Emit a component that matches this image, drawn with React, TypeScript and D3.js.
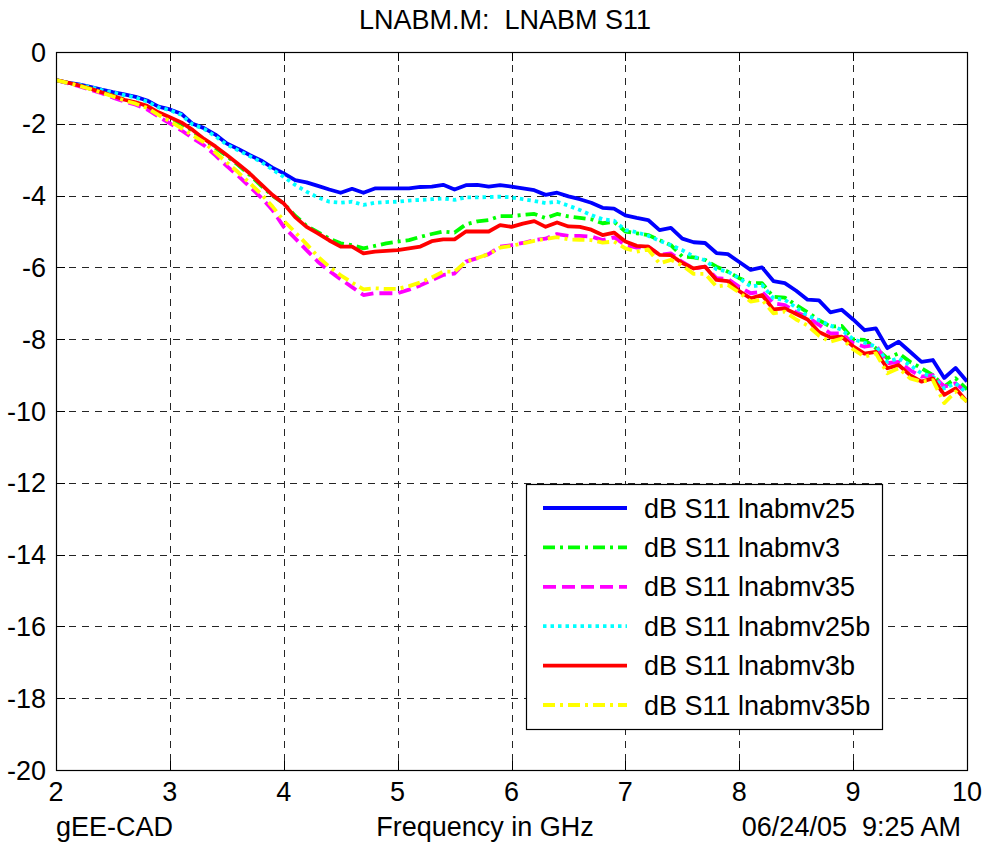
import * as d3 from "d3";
import { useEffect, useRef } from "react";

// frequency points, GHz
const freq = d3.range(81).map((i) => Math.round((2 + i * 0.1) * 10) / 10);

const v25 = [
  -0.78, -0.85, -0.9, -0.97, -1.05, -1.12, -1.18, -1.25, -1.35, -1.52,
  -1.6, -1.72, -2.0, -2.12, -2.3, -2.55, -2.7, -2.87, -3.02, -3.22,
  -3.38, -3.57, -3.63, -3.73, -3.83, -3.92, -3.81, -3.92, -3.8, -3.8,
  -3.8, -3.8, -3.76, -3.75, -3.7, -3.83, -3.71, -3.7, -3.75, -3.71,
  -3.75, -3.8, -3.85, -3.98, -3.92, -4.02, -4.1, -4.2, -4.34, -4.36,
  -4.55, -4.62, -4.68, -4.96, -4.9, -5.2, -5.3, -5.32, -5.6, -5.63,
  -5.85, -6.07, -6.0, -6.38, -6.44, -6.65, -6.9, -6.92, -7.25, -7.18,
  -7.45, -7.75, -7.7, -8.25, -8.07, -8.35, -8.63, -8.58, -9.08, -8.8,
  -9.18,
];
const v3 = [
  -0.78, -0.86, -0.93, -1.02, -1.12, -1.22, -1.33, -1.42, -1.52, -1.72,
  -1.85, -2.0, -2.2, -2.45, -2.67, -2.9, -3.15, -3.42, -3.72, -4.0,
  -4.22, -4.56, -4.84, -5.02, -5.2, -5.33, -5.38, -5.47, -5.4, -5.33,
  -5.28, -5.24, -5.15, -5.07, -5.0, -5.03, -4.8, -4.72, -4.68, -4.57,
  -4.57, -4.54, -4.51, -4.63, -4.51, -4.58, -4.62, -4.66, -4.77, -4.73,
  -5.0, -5.05, -5.1, -5.24, -5.38, -5.7, -5.72, -5.79, -5.98, -6.12,
  -6.3, -6.44, -6.44, -6.82, -6.84, -7.05, -7.25, -7.47, -7.65, -7.63,
  -8.0, -8.02, -8.25, -8.53, -8.39, -8.63, -8.81, -9.0, -9.32, -9.09,
  -9.4,
];
const v35 = [
  -0.78, -0.87, -0.95, -1.05, -1.15, -1.27, -1.38, -1.47, -1.6, -1.8,
  -1.99, -2.18, -2.4, -2.6, -2.88, -3.18, -3.45, -3.75, -4.05, -4.4,
  -4.87, -5.19, -5.52, -5.84, -6.1, -6.33, -6.55, -6.77, -6.72, -6.72,
  -6.72, -6.62, -6.5, -6.36, -6.21, -6.17, -5.84, -5.74, -5.63, -5.42,
  -5.38, -5.32, -5.24, -5.2, -5.07, -5.12, -5.12, -5.14, -5.24, -5.16,
  -5.38, -5.45, -5.42, -5.65, -5.61, -5.85, -6.03, -5.98, -6.3, -6.32,
  -6.54, -6.72, -6.68, -7.0, -7.05, -7.25, -7.38, -7.6, -7.84, -7.84,
  -8.11, -8.21, -8.16, -8.67, -8.63, -8.86, -9.04, -9.0, -9.32, -9.23,
  -9.5,
];
const v25b = [
  -0.78, -0.86, -0.91, -0.98, -1.06, -1.13, -1.2, -1.27, -1.38, -1.54,
  -1.62, -1.75, -2.02, -2.14, -2.35, -2.58, -2.74, -2.9, -3.06, -3.27,
  -3.48, -3.7, -3.89, -4.05, -4.17, -4.2, -4.17, -4.26, -4.2, -4.18,
  -4.17, -4.14, -4.12, -4.1, -4.08, -4.12, -4.05, -4.05, -4.04, -4.03,
  -4.05, -4.1, -4.15, -4.21, -4.17, -4.28, -4.4, -4.54, -4.66, -4.7,
  -4.96, -5.02, -5.12, -5.26, -5.38, -5.52, -5.7, -5.8, -6.05, -6.12,
  -6.3, -6.53, -6.49, -6.86, -6.9, -7.12, -7.35, -7.47, -7.62, -7.74,
  -8.0, -8.1, -8.2, -8.63, -8.53, -8.72, -8.95, -9.04, -9.37, -9.23,
  -9.5,
];
const v3b = [
  -0.78, -0.85, -0.93, -1.02, -1.12, -1.22, -1.33, -1.4, -1.5, -1.68,
  -1.82, -1.96, -2.17, -2.42, -2.63, -2.87, -3.12, -3.38, -3.68, -3.98,
  -4.22, -4.6, -4.87, -5.05, -5.25, -5.42, -5.42, -5.61, -5.56, -5.54,
  -5.52, -5.47, -5.42, -5.27, -5.22, -5.22, -5.0, -5.0, -5.0, -4.82,
  -4.87, -4.78, -4.71, -4.87, -4.75, -4.86, -4.87, -4.95, -5.1, -5.03,
  -5.28, -5.4, -5.42, -5.65, -5.66, -5.88, -6.03, -5.98, -6.35, -6.38,
  -6.66, -6.86, -6.77, -7.17, -7.14, -7.3, -7.45, -7.8, -7.95, -7.93,
  -8.2, -8.4, -8.35, -8.81, -8.72, -9.0, -9.18, -9.09, -9.55, -9.37,
  -9.74,
];
const v35b = [
  -0.78, -0.86, -0.94, -1.03, -1.13, -1.24, -1.35, -1.44, -1.56, -1.75,
  -1.93, -2.12, -2.32, -2.52, -2.8, -3.08, -3.35, -3.65, -3.95, -4.3,
  -4.7, -5.02, -5.35, -5.7, -5.98, -6.22, -6.42, -6.61, -6.58, -6.6,
  -6.6, -6.52, -6.42, -6.28, -6.12, -6.12, -5.84, -5.74, -5.63, -5.45,
  -5.4, -5.33, -5.26, -5.21, -5.16, -5.22, -5.23, -5.24, -5.31, -5.28,
  -5.47, -5.56, -5.5, -5.89, -5.79, -5.95, -6.18, -6.18, -6.53, -6.49,
  -6.7, -6.95, -6.9, -7.28, -7.23, -7.45, -7.62, -7.9, -8.07, -7.98,
  -8.28, -8.49, -8.39, -8.95, -8.81, -9.09, -9.18, -9.14, -9.78, -9.46,
  -9.74,
];

const seriesNames = [
  "dB S11 lnabmv25",
  "dB S11 lnabmv3",
  "dB S11 lnabmv35",
  "dB S11 lnabmv25b",
  "dB S11 lnabmv3b",
  "dB S11 lnabmv35b",
];
const seriesValues = [v25, v3, v35, v25b, v3b, v35b];
const seriesColors = ["#0000ff", "#00ff00", "#ff00ff", "#00ffff", "#ff0000", "#ffff00"];
const seriesDash = ["", "12,5,3,5", "13,6", "3.5,4", "", "12,5,3,5"];

const xTicks = [2, 3, 4, 5, 6, 7, 8, 9, 10];
const yTicks = [0, -2, -4, -6, -8, -10, -12, -14, -16, -18, -20];

const FONT = "Arial, 'Liberation Sans', Helvetica, sans-serif";
const FS = 27;

const App = () => {
  const svgRef = useRef<SVGSVGElement>(null);

  useEffect(() => {
    const w = 986;
    const h = 846;
    const left = 56, right = 967, top = 52, bottom = 770;

    const svg = d3.select(svgRef.current).attr("width", w).attr("height", h);
    svg.selectAll("*").remove();

    svg.append("rect").attr("width", w).attr("height", h).attr("fill", "#fff");

    const x = d3.scaleLinear().domain([2, 10]).range([left, right]);
    const y = d3.scaleLinear().domain([-20, 0]).range([bottom, top]);

    // grid
    const grid = svg.append("g").attr("stroke", "#000").attr("stroke-width", 1)
      .attr("stroke-dasharray", "7,6").attr("opacity", 0.85);
    grid.selectAll(".gx").data(xTicks.slice(1, -1)).join("line")
      .attr("x1", (d) => Math.round(x(d)) + 0.5).attr("x2", (d) => Math.round(x(d)) + 0.5)
      .attr("y1", top).attr("y2", bottom);
    grid.selectAll(".gy").data(yTicks.slice(1, -1)).join("line")
      .attr("y1", (d) => Math.round(y(d)) + 0.5).attr("y2", (d) => Math.round(y(d)) + 0.5)
      .attr("x1", left).attr("x2", right);

    // tick marks on all sides
    const tk = svg.append("g").attr("stroke", "#000").attr("stroke-width", 1);
    const tl = 9;
    xTicks.forEach((d) => {
      const xx = Math.round(x(d)) + 0.5;
      tk.append("line").attr("x1", xx).attr("x2", xx).attr("y1", bottom).attr("y2", bottom - tl);
      tk.append("line").attr("x1", xx).attr("x2", xx).attr("y1", top).attr("y2", top + tl);
    });
    yTicks.forEach((d) => {
      const yy = Math.round(y(d)) + 0.5;
      tk.append("line").attr("x1", left).attr("x2", left + tl).attr("y1", yy).attr("y2", yy);
      tk.append("line").attr("x1", right).attr("x2", right - tl).attr("y1", yy).attr("y2", yy);
    });

    // series
    const line = d3.line<number>()
      .x((_, i) => x(freq[i]))
      .y((d) => y(d));
    const clip = svg.append("clipPath").attr("id", "plotclip");
    clip.append("rect").attr("x", left).attr("y", top).attr("width", right - left).attr("height", bottom - top);
    const lines = svg.append("g").attr("clip-path", "url(#plotclip)");
    seriesValues.forEach((vals, k) => {
      lines.append("path")
        .attr("d", line(vals))
        .attr("fill", "none")
        .attr("stroke", seriesColors[k])
        .attr("stroke-width", 3.8)
        .attr("stroke-linejoin", "round")
        .attr("stroke-dasharray", seriesDash[k] || null);
    });

    // box
    svg.append("rect").attr("x", left + 0.5).attr("y", top + 0.5)
      .attr("width", right - left).attr("height", bottom - top)
      .attr("fill", "none").attr("stroke", "#000").attr("stroke-width", 1.2);

    // tick labels
    const txt = svg.append("g").attr("font-family", FONT).attr("font-size", FS).attr("fill", "#000");
    txt.selectAll(".yl").data(yTicks).join("text")
      .attr("x", left - 10).attr("y", (d) => y(d) + 9.5)
      .attr("text-anchor", "end").text((d) => String(d));
    txt.selectAll(".xl").data(xTicks).join("text")
      .attr("x", (d) => x(d)).attr("y", 801)
      .attr("text-anchor", "middle").text((d) => String(d));

    // title and footer texts
    txt.append("text").attr("x", 505).attr("y", 29)
      .attr("text-anchor", "middle").attr("xml:space", "preserve")
      .text("LNABM.M:  LNABM S11");
    txt.append("text").attr("x", left).attr("y", 836).text("gEE-CAD");
    txt.append("text").attr("x", 485).attr("y", 836).attr("text-anchor", "middle").text("Frequency in GHz");
    txt.append("text").attr("x", 961).attr("y", 836).attr("text-anchor", "end")
      .attr("xml:space", "preserve").text("06/24/05  9:25 AM");

    // legend
    const lg = svg.append("g");
    lg.append("rect").attr("x", 526.5).attr("y", 484.5).attr("width", 356).attr("height", 245)
      .attr("fill", "#fff").attr("stroke", "#000").attr("stroke-width", 1.2);
    seriesNames.forEach((name, k) => {
      const yy = 508 + k * 39.4;
      lg.append("line").attr("x1", 543).attr("x2", 627).attr("y1", yy).attr("y2", yy)
        .attr("stroke", seriesColors[k]).attr("stroke-width", 3.8)
        .attr("stroke-dasharray", seriesDash[k] || null);
      lg.append("text").attr("x", 644).attr("y", yy + 9.5)
        .attr("font-family", FONT).attr("font-size", FS).text(name);
    });
  }, []);

  return <svg ref={svgRef} style={{ position: "absolute", left: 0, top: 0 }}></svg>;
};

export default App;
